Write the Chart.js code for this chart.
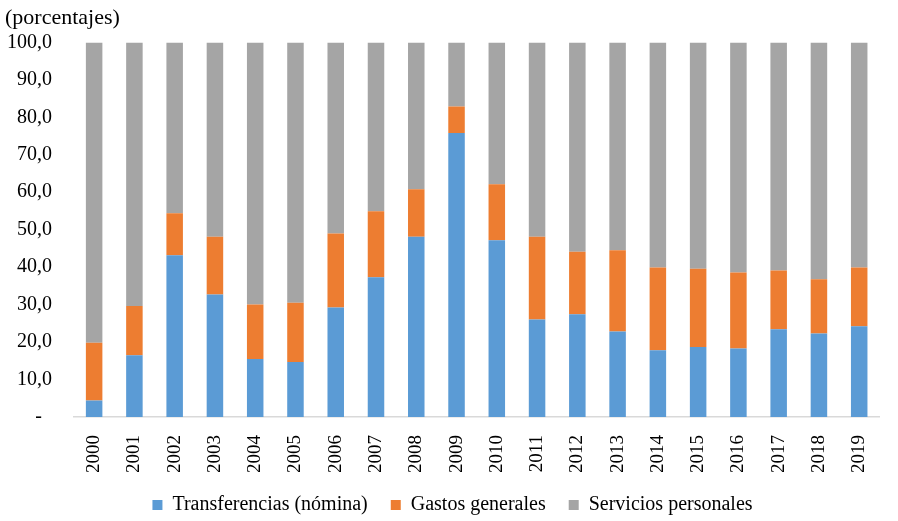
<!DOCTYPE html>
<html>
<head>
<meta charset="utf-8">
<script src="https://cdn.jsdelivr.net/npm/chart.js@4"></script>
<style>
  html, body { margin: 0; padding: 0; background: #fff; overflow: hidden; }
  #wrap { width: 900px; height: 521px; }
</style>
</head>
<body>
<div id="wrap"><canvas id="chart"></canvas></div>
<script>
const years = ['2000', '2001', '2002', '2003', '2004', '2005', '2006', '2007', '2008', '2009',
  '2010', '2011', '2012', '2013', '2014', '2015', '2016', '2017', '2018', '2019'];

// porcentajes del total
const transferencias = [4.4, 16.5, 43.2, 32.7, 15.5, 14.7, 29.2, 37.3, 48.1, 75.8,
  47.2, 26.0, 27.4, 22.8, 17.8, 18.7, 18.3, 23.4, 22.3, 24.2];
const gastosGenerales = [15.4, 13.1, 11.2, 15.4, 14.5, 15.8, 19.8, 17.6, 12.7, 7.1,
  14.9, 22.1, 16.7, 21.7, 22.1, 20.9, 20.3, 15.7, 14.5, 15.7];
const serviciosPersonales = [80.2, 70.4, 45.6, 51.9, 70.0, 69.5, 51.0, 45.1, 39.2, 17.1,
  37.9, 51.9, 55.9, 55.5, 60.1, 60.4, 61.4, 60.9, 63.2, 60.1];

const yTicks = [0, 10, 20, 30, 40, 50, 60, 70, 80, 90, 100];

const serif = 'Liberation Serif, Times New Roman, serif';
Chart.defaults.font.family = serif;
Chart.defaults.font.size = 20;
Chart.defaults.color = '#000';

new Chart(document.getElementById('chart'), {
  type: 'bar',
  data: {
    labels: years,
    datasets: [
      { label: 'Transferencias (nómina)', data: transferencias, backgroundColor: '#5B9BD5', borderWidth: 0 },
      { label: 'Gastos generales', data: gastosGenerales, backgroundColor: '#ED7D31', borderWidth: 0 },
      { label: 'Servicios personales', data: serviciosPersonales, backgroundColor: '#A5A5A5', borderWidth: 0 }
    ]
  },
  options: {
    responsive: true,
    maintainAspectRatio: false,
    animation: false,
    categoryPercentage: 1,
    barPercentage: 0.41,
    layout: { padding: { left: 5, right: 0, top: 0, bottom: 0 } },
    plugins: {
      title: {
        display: true,
        text: '(porcentajes)',
        align: 'start',
        font: { size: 22, weight: 'normal' },
        padding: { top: 5, bottom: 11 }
      },
      legend: {
        position: 'bottom',
        maxHeight: 49,
        labels: { boxWidth: 10, boxHeight: 10, padding: 23, font: { size: 20 } }
      },
      tooltip: { enabled: false }
    },
    scales: {
      x: {
        stacked: true,
        grid: { display: false, drawTicks: false },
        border: { display: true, color: '#D9D9D9', width: 1.5 },
        ticks: { minRotation: 90, maxRotation: 90, padding: 18, font: { size: 19 } },
        afterFit: (axis) => { axis.height = 55; }
      },
      y: {
        stacked: true,
        min: 0,
        max: 100,
        grid: { display: false, drawTicks: false },
        border: { display: false },
        afterBuildTicks: (axis) => { axis.ticks = yTicks.map(v => ({ value: v })); },
        ticks: {
          padding: 22,
          font: { size: 20 },
          callback: (v) => v === 0 ? '-  ' : v.toFixed(1).replace('.', ',')
        },
        afterFit: (axis) => { axis.width = 69; }
      }
    }
  }
});
</script>
</body>
</html>
